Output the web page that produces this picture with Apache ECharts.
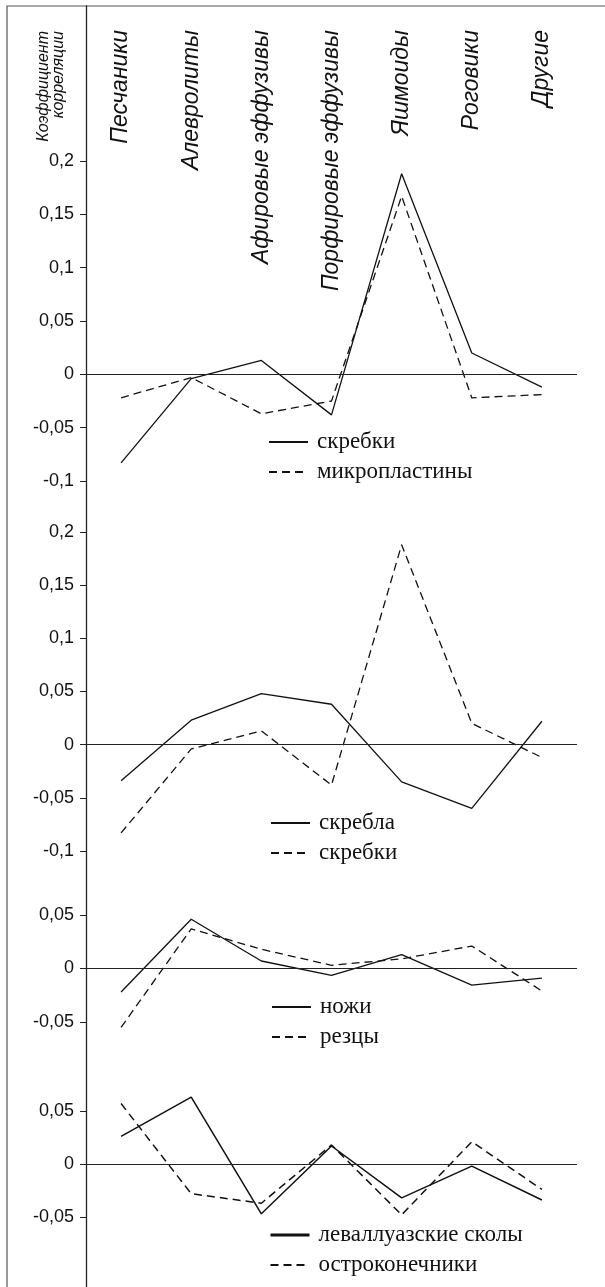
<!DOCTYPE html>
<html><head><meta charset="utf-8">
<script src="https://cdn.jsdelivr.net/npm/echarts@6/dist/echarts.min.js"></script>
<style>html,body{margin:0;padding:0;background:#fff;}#c{width:605px;height:1287px;}</style>
</head><body><div id="c"></div>
<script>
// ---- data ----
const categories = ['Песчаники','Алевролиты','Афировые эффузивы','Порфировые эффузивы','Яшмоиды','Роговики','Другие'];
const scrapers      = [-0.083, -0.004, 0.013, -0.038, 0.188, 0.020, -0.012];   // скребки
const microblades   = [-0.022, -0.003, -0.037, -0.025, 0.167, -0.022, -0.019]; // микропластины
const sidescrapers  = [-0.034, 0.023, 0.048, 0.038, -0.035, -0.060, 0.022];    // скребла
const knives        = [-0.022, 0.046, 0.007, -0.0065, 0.013, -0.0155, -0.009]; // ножи
const burins        = [-0.055, 0.037, 0.018, 0.003, 0.009, 0.021, -0.021];     // резцы
const levalloisFlakes = [0.026, 0.063, -0.047, 0.017, -0.032, -0.002, -0.034]; // леваллуазские сколы
const points        = [0.057, -0.028, -0.037, 0.018, -0.048, 0.021, -0.024];   // остроконечники
const yTitle = ['Коэффициент', 'корреляции'];
const panelRanges = [[-0.1, 0.2], [-0.1, 0.2], [-0.05, 0.05], [-0.05, 0.05]];

// ---- layout ----
const L = 86, W = 491;
const panels = [
  {top: 161, height: 320},
  {top: 532, height: 319},
  {top: 915, height: 107},
  {top: 1111, height: 106}
];
const sans = '"Liberation Sans", Arial, sans-serif';
const serif = '"Liberation Serif", "Times New Roman", serif';
const dash = [8, 5];
const ink = '#111';

const grids = [], xAxes = [], yAxes = [], series = [], legends = [];
panels.forEach((p, i) => {
  grids.push({left: L, width: W, top: p.top, height: p.height});
  xAxes.push({type: 'category', gridIndex: i, data: categories, boundaryGap: true,
    axisLine: {show: false}, axisTick: {show: false}, axisLabel: {show: false}, splitLine: {show: false}});
  yAxes.push({type: 'value', gridIndex: i, min: panelRanges[i][0], max: panelRanges[i][1], interval: 0.05,
    axisLine: {show: false}, splitLine: {show: false},
    axisTick: {show: true, inside: false, length: 6, lineStyle: {color: '#222', width: 1}},
    axisLabel: {margin: 12, color: ink, fontFamily: sans, fontSize: 18,
      formatter: v => String(Math.round(v * 100) / 100).replace('.', ',')}});
});
// full-height vertical axis line
grids.push({left: L, width: W, top: 6, height: 1300});
xAxes.push({type: 'value', gridIndex: 4, show: false});
yAxes.push({type: 'value', gridIndex: 4, min: 0, max: 1, axisLine: {show: true, onZero: false, lineStyle: {color: '#222', width: 1.3}},
  axisTick: {show: false}, axisLabel: {show: false}, splitLine: {show: false}});
// category label axis at top
grids.push({left: L, width: W, top: 0, height: 30});
xAxes.push({type: 'category', gridIndex: 5, position: 'bottom', data: categories, boundaryGap: true,
  axisLine: {show: false}, axisTick: {show: false},
  axisLabel: {rotate: 90, margin: 0, interval: 0, color: ink, fontFamily: sans, fontStyle: 'italic', fontSize: 23}});
yAxes.push({type: 'value', gridIndex: 5, show: false});

const zeroLine = {silent: true, symbol: 'none', label: {show: false},
  lineStyle: {type: 'solid', color: '#222', width: 1}, data: [{yAxis: 0}]};

function addSeries(name, data, gi, dashed, withZero, width) {
  const s = {name: name, type: 'line', xAxisIndex: gi, yAxisIndex: gi, data: data,
    symbol: 'none', clip: false, animation: false, color: ink,
    itemStyle: {color: ink},
    lineStyle: {color: ink, width: width || 1.3, type: dashed ? dash : 'solid'}};
  if (withZero) s.markLine = zeroLine;
  series.push(s);
}
addSeries('скребки', scrapers, 0, false, true);
addSeries('микропластины', microblades, 0, true, false);
addSeries('скребла', sidescrapers, 1, false, true);
addSeries('скребки ', scrapers, 1, true, false);
addSeries('ножи', knives, 2, false, true);
addSeries('резцы', burins, 2, true, false);
addSeries('леваллуазские сколы', levalloisFlakes, 3, false, true, 1.5);
addSeries('остроконечники', points, 3, true, false, 1.5);

const legendPos = [
  {left: 268, top: 430, data: ['скребки', 'микропластины']},
  {left: 270, top: 811, data: ['скребла', 'скребки ']},
  {left: 271, top: 995, data: ['ножи', 'резцы']},
  {left: 269, top: 1223, data: [{name: 'леваллуазские сколы', lineStyle: {width: 3}}, 'остроконечники']}
];
legendPos.forEach(lp => legends.push({
  orient: 'vertical', left: lp.left, top: lp.top, padding: 0, data: lp.data,
  itemWidth: 39, itemHeight: 14, itemGap: 6, selectedMode: false,
  itemStyle: {opacity: 0, borderWidth: 0},
  formatter: n => n.trim(),
  textStyle: {fontFamily: serif, fontSize: 23, color: ink, lineHeight: 24, padding: [0, 0, 0, 4]}
}));

const chart = echarts.init(document.getElementById('c'), null, {renderer: 'canvas'});
chart.setOption({
  animation: false,
  backgroundColor: '#fff',
  grid: grids, xAxis: xAxes, yAxis: yAxes, series: series, legend: legends,
  graphic: [
    {type: 'rect', shape: {x: 7, y: 6, width: 700, height: 1400}, style: {fill: null, stroke: '#555', lineWidth: 1.2}, silent: true},
    {type: 'text', x: 44, y: 31, rotation: Math.PI / 2, style: {text: yTitle[0], font: 'italic 16px ' + sans, fill: ink, align: 'right', verticalAlign: 'middle'}},
    {type: 'text', x: 59, y: 31, rotation: Math.PI / 2, style: {text: yTitle[1], font: 'italic 16px ' + sans, fill: ink, align: 'right', verticalAlign: 'middle'}}
  ]
});
</script>
</body></html>
